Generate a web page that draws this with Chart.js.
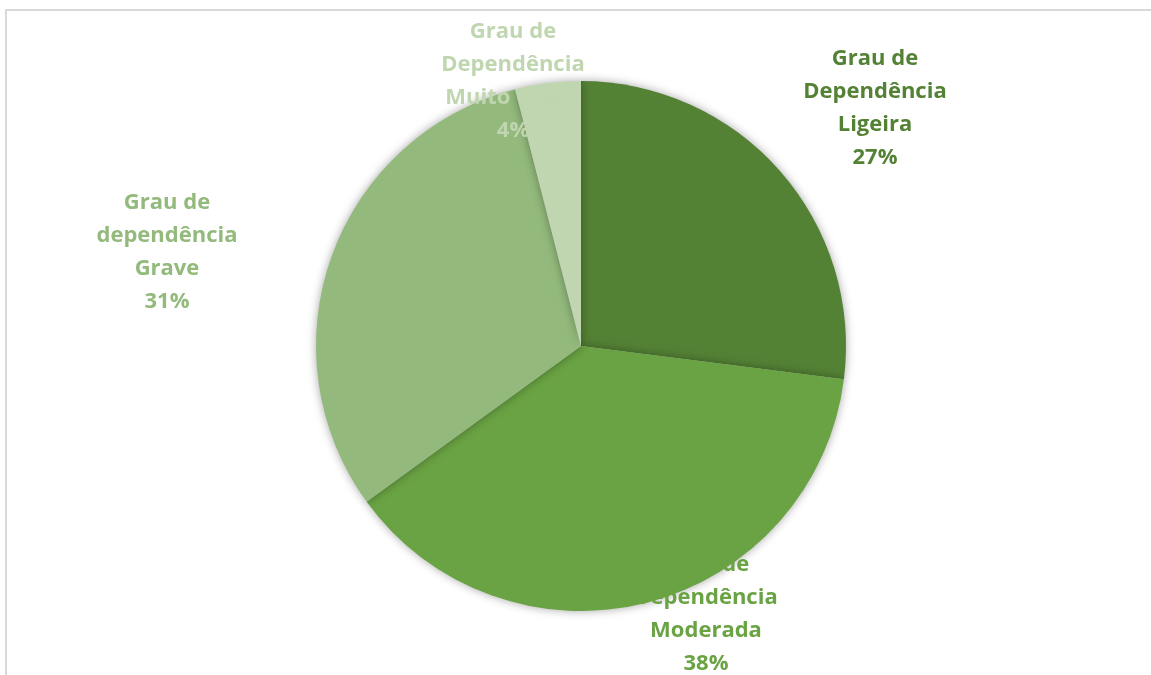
<!DOCTYPE html>
<html>
<head>
<meta charset="utf-8">
<script src="https://cdn.jsdelivr.net/npm/chart.js@4/dist/chart.umd.min.js"></script>
<style>
    html, body { margin: 0; padding: 0; background: #fff; }
    #wrap { width: 1151px; height: 675px; position: relative; }
</style>
</head>
<body>
<div id="wrap"><canvas id="pieChart"></canvas></div>
<script>
// Données du graphique
const categories = [
    ['Grau de', 'Dependência', 'Ligeira'],
    ['Grau de', 'Dependência', 'Moderada'],
    ['Grau de', 'dependência', 'Grave'],
    ['Grau de', 'Dependência', 'Muito Grave']
];
const values = [27, 38, 31, 4];
const sliceColors = ['#548235', '#6aa343', '#93ba7c', '#bfd6b0'];

// Position des étiquettes (centre du bloc de texte)
const labelPos = [
    { x: 875, y: 108 },
    { x: 706, y: 614 },
    { x: 167, y: 252 },
    { x: 513, y: 81 }
];

// Cadre gris clair
const framePlugin = {
    id: 'frame',
    beforeDraw(chart) {
        const ctx = chart.ctx;
        ctx.save();
        ctx.strokeStyle = '#d9d9d9';
        ctx.lineWidth = 2;
        ctx.strokeRect(6, 10, 1300, 800);
        ctx.restore();
    }
};

// Étiquettes dessinées par-dessus le camembert
const labelPlugin = {
    id: 'sliceLabels',
    afterDatasetsDraw(chart) {
        const ctx = chart.ctx;
        const total = values.reduce((a, b) => a + b, 0);
        ctx.save();
        ctx.font = 'bold 22px "Open Sans", sans-serif';
        ctx.textAlign = 'center';
        ctx.textBaseline = 'middle';
        categories.forEach((lines, i) => {
            const pct = Math.round(values[i] / total * 100) + '%';
            const all = lines.concat([pct]);
            const lh = 33;
            const y0 = labelPos[i].y - (all.length - 1) * lh / 2;
            ctx.fillStyle = sliceColors[i];
            all.forEach((txt, j) => ctx.fillText(txt, labelPos[i].x, y0 + j * lh));
        });
        ctx.restore();
    }
};

// Ombre douce autour du camembert
const shadowPlugin = {
    id: 'pieShadow',
    beforeDatasetDraw(chart) {
        const ctx = chart.ctx;
        ctx.save();
        ctx.shadowColor = 'rgba(0,0,0,0.35)';
        ctx.shadowBlur = 10;
        ctx.shadowOffsetX = 0;
        ctx.shadowOffsetY = 0;
    },
    afterDatasetDraw(chart) {
        chart.ctx.restore();
    }
};

const chartConfig = {
    type: 'pie',
    data: {
        labels: categories,
        datasets: [{
            data: values,
            backgroundColor: sliceColors,
            borderWidth: 0,
            hoverOffset: 0
        }]
    },
    options: {
        responsive: true,
        maintainAspectRatio: false,
        animation: false,
        rotation: 0,
        layout: {
            padding: { top: 81, bottom: 64, left: 316, right: 305 }
        },
        plugins: {
            legend: { display: false },
            tooltip: { enabled: false }
        }
    },
    plugins: [framePlugin, labelPlugin, shadowPlugin]
};

document.addEventListener('DOMContentLoaded', () => {
    const ctx = document.getElementById('pieChart').getContext('2d');
    new Chart(ctx, chartConfig);
});
</script>
</body>
</html>
